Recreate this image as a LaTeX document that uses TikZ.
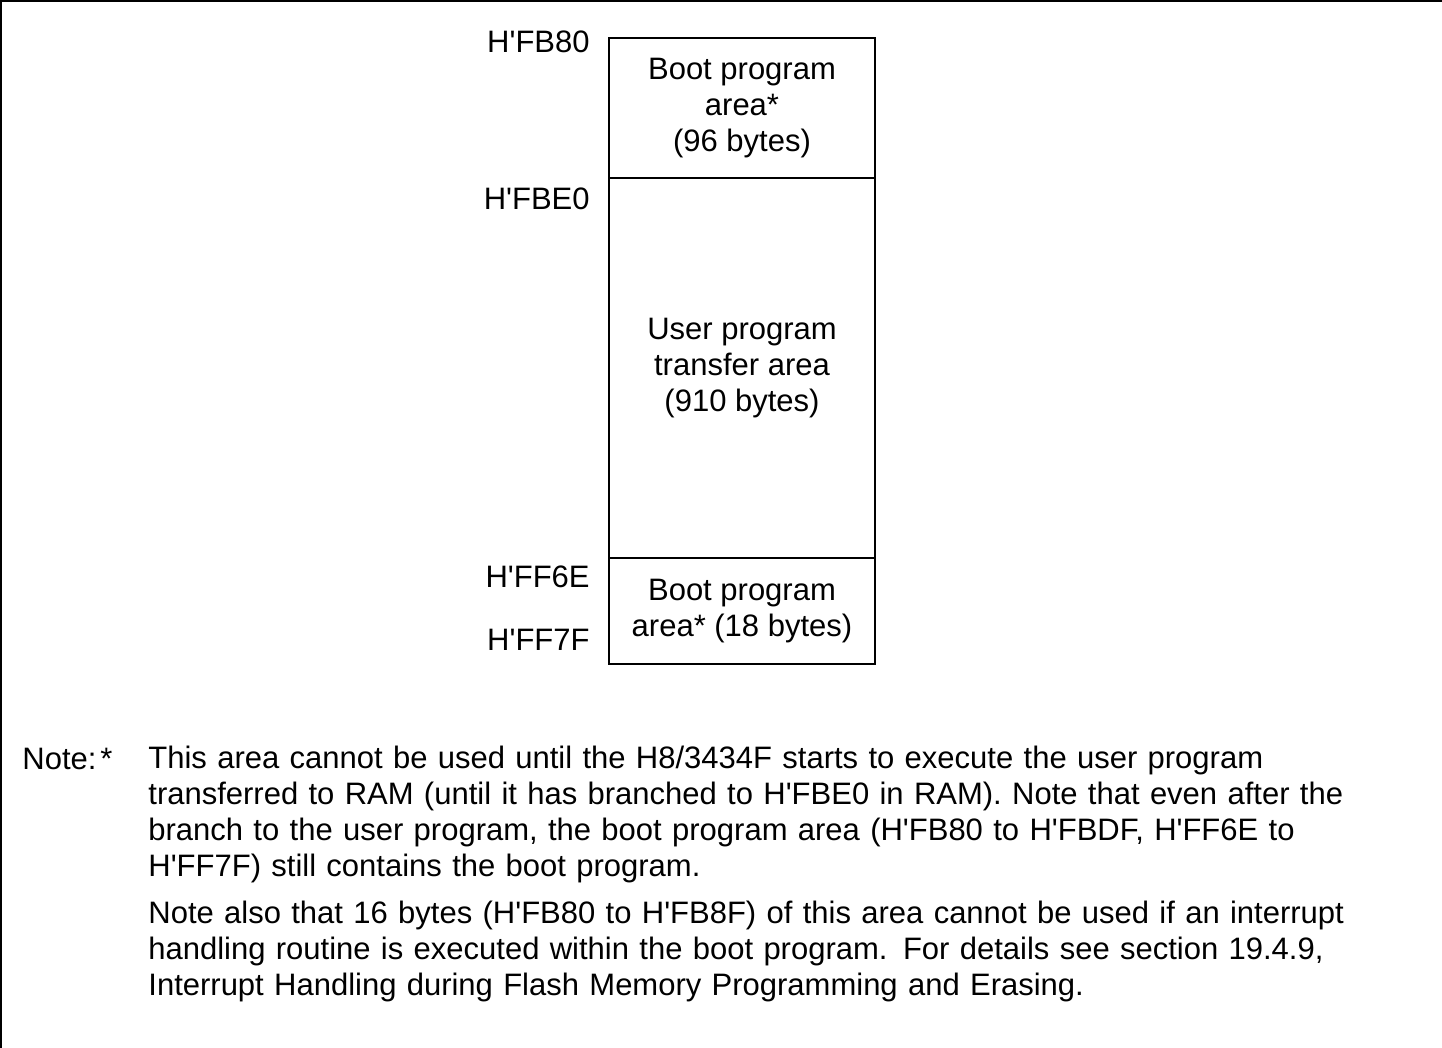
\documentclass[tikz,border=0pt]{standalone}
\usepackage{fontspec}
\newfontfamily\memfont{Liberation Sans}
\usepackage{tikz}
\usetikzlibrary{positioning}

\begin{document}
\begin{tikzpicture}[
  x=0.5pt, y=-0.5pt,
  region/.style={
    draw, line width=1pt, inner sep=0pt, outer sep=0pt,
    minimum width=133pt, align=center,
    font=\memfont\fontsize{15.5}{18}\selectfont
  },
  addr/.style={inner sep=0pt, anchor=base east,
               font=\memfont\fontsize{15.5}{18}\selectfont},
  note/.style={inner sep=0pt, align=left,
               font=\memfont\fontsize{15.5}{18}\selectfont}
]
  \useasboundingbox (0,0) rectangle (1442,1048);

  % --- Frame ---
  \draw[line width=1pt] (1442,1) -- (1,1) -- (1,1048);

  % --- Memory map ---
  \node[region, minimum height=70pt] (boot1) at (742,108)
    {Boot program\\area*\\(96 bytes)};
  \node[region, minimum height=190pt, below=0pt of boot1] (user)
    {User program\\transfer area\\(910 bytes)};
  \node[region, minimum height=53pt, below=0pt of user] (boot2)
    {Boot program\\area* (18 bytes)};

  % --- Addresses ---
  \node[addr] (a1) at (590,53)  {H'FB80};
  \node[addr] (a2) at (590,210) {H'FBE0};
  \node[addr] (a3) at (590,587) {H'FF6E};
  \node[addr] (a4) at (590,650) {H'FF7F};

  % --- Note ---
  \node[note, anchor=base west] (notehead) at (22,769) {Note:};
  \node[note, anchor=base west] (notestar) at (100,769) {*};
  \node[note, anchor=north west, text width=620pt] (notetext) at (148,746) {%
    This area cannot be used until the H8/3434F starts to execute the user program\\
    transferred to RAM (until it has branched to H'FBE0 in RAM). Note that even after the\\
    branch to the user program, the boot program area (H'FB80 to H'FBDF, H'FF6E to\\
    H'FF7F) still contains the boot program.\\[5.5pt]
    Note also that 16 bytes (H'FB80 to H'FB8F) of this area cannot be used if an interrupt\\
    handling routine is executed within the boot program. For details see section 19.4.9,\\
    Interrupt Handling during Flash Memory Programming and Erasing.};
\end{tikzpicture}
\end{document}
